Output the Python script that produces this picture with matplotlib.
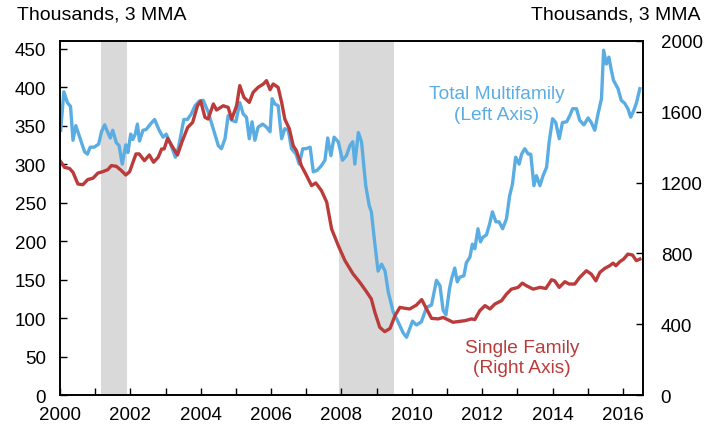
import matplotlib
matplotlib.use("Agg")
import matplotlib.pyplot as plt
import numpy as np

plt.rcParams['font.family'] = ['Liberation Sans', 'DejaVu Sans']

# Total multifamily (left axis, thousands, 3MMA)
multi_years = [2000.02, 2000.11, 2000.21, 2000.30, 2000.37, 2000.45, 2000.56, 2000.70, 2000.78, 2000.86,
               2000.97, 2001.10, 2001.18, 2001.27, 2001.36, 2001.43, 2001.50, 2001.60, 2001.68, 2001.77,
               2001.87, 2001.93, 2002.01, 2002.07, 2002.14, 2002.20, 2002.26, 2002.36, 2002.45, 2002.57,
               2002.69, 2002.81, 2002.93, 2003.02, 2003.16, 2003.28, 2003.37, 2003.52, 2003.62, 2003.73,
               2003.84, 2003.96, 2004.07, 2004.21, 2004.36, 2004.50, 2004.59, 2004.69, 2004.78, 2004.88,
               2005.00, 2005.11, 2005.21, 2005.30, 2005.38, 2005.46, 2005.54, 2005.63, 2005.76, 2005.87,
               2005.97, 2006.03, 2006.11, 2006.20, 2006.30, 2006.39, 2006.49, 2006.58, 2006.71, 2006.80,
               2006.90, 2006.99, 2007.11, 2007.20, 2007.31, 2007.43, 2007.53, 2007.61, 2007.70, 2007.79,
               2007.91, 2008.03, 2008.14, 2008.24, 2008.32, 2008.38, 2008.48, 2008.57, 2008.69, 2008.79,
               2008.85, 2008.95, 2009.04, 2009.14, 2009.24, 2009.33, 2009.47, 2009.61, 2009.75, 2009.85,
               2010.02, 2010.13, 2010.27, 2010.42, 2010.56, 2010.70, 2010.80, 2010.89, 2010.97, 2011.07,
               2011.13, 2011.22, 2011.29, 2011.36, 2011.48, 2011.55, 2011.65, 2011.72, 2011.79, 2011.88,
               2011.95, 2012.02, 2012.12, 2012.21, 2012.29, 2012.39, 2012.48, 2012.58, 2012.69, 2012.78,
               2012.86, 2012.95, 2013.05, 2013.12, 2013.21, 2013.31, 2013.38, 2013.47, 2013.54, 2013.64,
               2013.73, 2013.83, 2013.90, 2014.00, 2014.09, 2014.19, 2014.28, 2014.40, 2014.49, 2014.57,
               2014.68, 2014.77, 2014.89, 2015.01, 2015.10, 2015.20, 2015.29, 2015.39, 2015.45, 2015.53,
               2015.60, 2015.67, 2015.73, 2015.86, 2015.95, 2016.05, 2016.14, 2016.22, 2016.31, 2016.38,
               2016.48]
multi_values = [344, 394, 380, 375, 331, 350, 335, 316, 313, 322,
                322, 326, 342, 351, 341, 334, 344, 328, 324, 300,
                325, 315, 339, 332, 339, 352, 330, 344, 345, 352,
                358, 345, 335, 339, 324, 309, 322, 358, 358, 365,
                376, 382, 383, 368, 345, 324, 320, 333, 363, 357,
                355, 380, 365, 361, 333, 355, 331, 348, 352, 348,
                342, 385, 378, 376, 333, 346, 344, 320, 313, 300,
                320, 320, 322, 290, 292, 298, 305, 334, 311, 335,
                329, 305, 311, 324, 329, 300, 341, 329, 272, 246,
                238, 196, 161, 170, 161, 134, 108, 95, 81, 75,
                96, 91, 95, 114, 117, 149, 142, 110, 104, 138,
                151, 165, 147, 153, 155, 172, 179, 196, 190, 216,
                199, 205, 208, 222, 238, 225, 225, 216, 229, 259,
                274, 309, 300, 313, 320, 313, 313, 272, 285, 272,
                285, 296, 328, 359, 354, 333, 354, 355, 363, 372,
                372, 357, 351, 360, 354, 344, 365, 385, 448, 430,
                439, 422, 409, 398, 383, 379, 372, 361, 370, 379,
                398]

# Single family (right axis, thousands, 3MMA)
single_years = [2000.02, 2000.13, 2000.27, 2000.37, 2000.51, 2000.65, 2000.79, 2000.94, 2001.08, 2001.22,
                2001.36, 2001.46, 2001.60, 2001.74, 2001.87, 2001.98, 2002.16, 2002.25, 2002.40, 2002.54,
                2002.66, 2002.79, 2002.89, 2002.96, 2003.06, 2003.18, 2003.34, 2003.48, 2003.63, 2003.77,
                2003.91, 2004.00, 2004.12, 2004.21, 2004.36, 2004.45, 2004.64, 2004.78, 2004.88, 2005.02,
                2005.11, 2005.23, 2005.38, 2005.49, 2005.63, 2005.78, 2005.87, 2005.97, 2006.06, 2006.20,
                2006.30, 2006.39, 2006.52, 2006.63, 2006.72, 2006.86, 2007.01, 2007.15, 2007.27, 2007.43,
                2007.58, 2007.72, 2007.91, 2008.10, 2008.33, 2008.52, 2008.71, 2008.85, 2008.95, 2009.09,
                2009.23, 2009.38, 2009.52, 2009.66, 2009.80, 2009.94, 2010.13, 2010.28, 2010.42, 2010.56,
                2010.75, 2010.89, 2011.08, 2011.17, 2011.32, 2011.51, 2011.70, 2011.79, 2011.93, 2012.08,
                2012.22, 2012.36, 2012.55, 2012.69, 2012.83, 2013.02, 2013.14, 2013.26, 2013.45, 2013.64,
                2013.81, 2013.97, 2014.06, 2014.19, 2014.35, 2014.47, 2014.63, 2014.77, 2014.96, 2015.10,
                2015.23, 2015.34, 2015.48, 2015.62, 2015.72, 2015.80, 2015.91, 2016.02, 2016.14, 2016.27,
                2016.38, 2016.48]
single_values = [1318, 1286, 1280, 1258, 1192, 1188, 1217, 1225, 1254, 1262,
                 1273, 1296, 1292, 1269, 1243, 1262, 1362, 1362, 1324, 1356,
                 1315, 1343, 1390, 1390, 1450, 1408, 1356, 1437, 1512, 1540,
                 1635, 1660, 1569, 1559, 1644, 1610, 1634, 1625, 1559, 1634,
                 1748, 1681, 1653, 1710, 1738, 1757, 1776, 1725, 1757, 1738,
                 1653, 1559, 1503, 1408, 1380, 1296, 1239, 1183, 1198, 1155,
                 1090, 938, 844, 759, 684, 637, 584, 542, 467, 382,
                 358, 376, 448, 495, 490, 486, 508, 539, 486, 433,
                 430, 438, 420, 411, 415, 420, 430, 426, 476, 505,
                 486, 514, 533, 570, 598, 608, 632, 617, 598, 608,
                 602, 651, 645, 608, 640, 627, 627, 664, 702, 683,
                 645, 692, 715, 730, 745, 730, 753, 768, 796, 791,
                 759, 768]

recessions = [(2001.17, 2001.90), (2007.92, 2009.50)]
left_ticks = [0, 50, 100, 150, 200, 250, 300, 350, 400, 450]
right_ticks = [0, 400, 800, 1200, 1600, 2000]
year_labels = [2000, 2002, 2004, 2006, 2008, 2010, 2012, 2014, 2016]

blue = '#5aade2'
red = '#bb3b3b'

fig = plt.figure(figsize=(7.08, 4.31), dpi=100)
ax1 = fig.add_axes([0.0847, 0.0812, 0.823, 0.8214])
ax2 = ax1.twinx()

for s, e in recessions:
    ax1.axvspan(s, e, color='#d9d9d9', lw=0, zorder=0)

ax1.plot(multi_years, multi_values, color=blue, lw=2.4, zorder=2, solid_joinstyle='round')
ax2.plot(single_years, single_values, color=red, lw=2.4, zorder=2, solid_joinstyle='round')

ax1.set_xlim(2000, 2016.56)
ax1.set_ylim(0, 460)
ax2.set_ylim(0, 2000)

ax1.set_yticks(left_ticks)
ax2.set_yticks(right_ticks)
ax1.set_xticks(year_labels)
ax1.set_xticks(list(range(2001, 2017, 2)), minor=True)

for ax in (ax1, ax2):
    for sp in ax.spines.values():
        sp.set_linewidth(1.2)
        sp.set_color('black')

ax1.tick_params(axis='both', which='both', direction='in', length=5, width=1, labelsize=13.5)
ax1.tick_params(axis='y', pad=10)
ax1.tick_params(axis='x', pad=8)
ax2.tick_params(axis='y', direction='in', length=5, width=1, labelsize=13.5, pad=13)

ax1.text(12.42 + 2000, 378, 'Total Multifamily\n(Left Axis)', color=blue, fontsize=13.8,
         ha='center', va='center', linespacing=1.25)
ax1.text(13.13 + 2000, 49, 'Single Family\n(Right Axis)', color=red, fontsize=13.8,
         ha='center', va='center', linespacing=1.25)

fig.text(0.024, 0.945, 'Thousands, 3 MMA', fontsize=14, ha='left', va='bottom')
fig.text(0.989, 0.945, 'Thousands, 3 MMA', fontsize=14, ha='right', va='bottom')

fig.savefig('out.png', dpi=100)
